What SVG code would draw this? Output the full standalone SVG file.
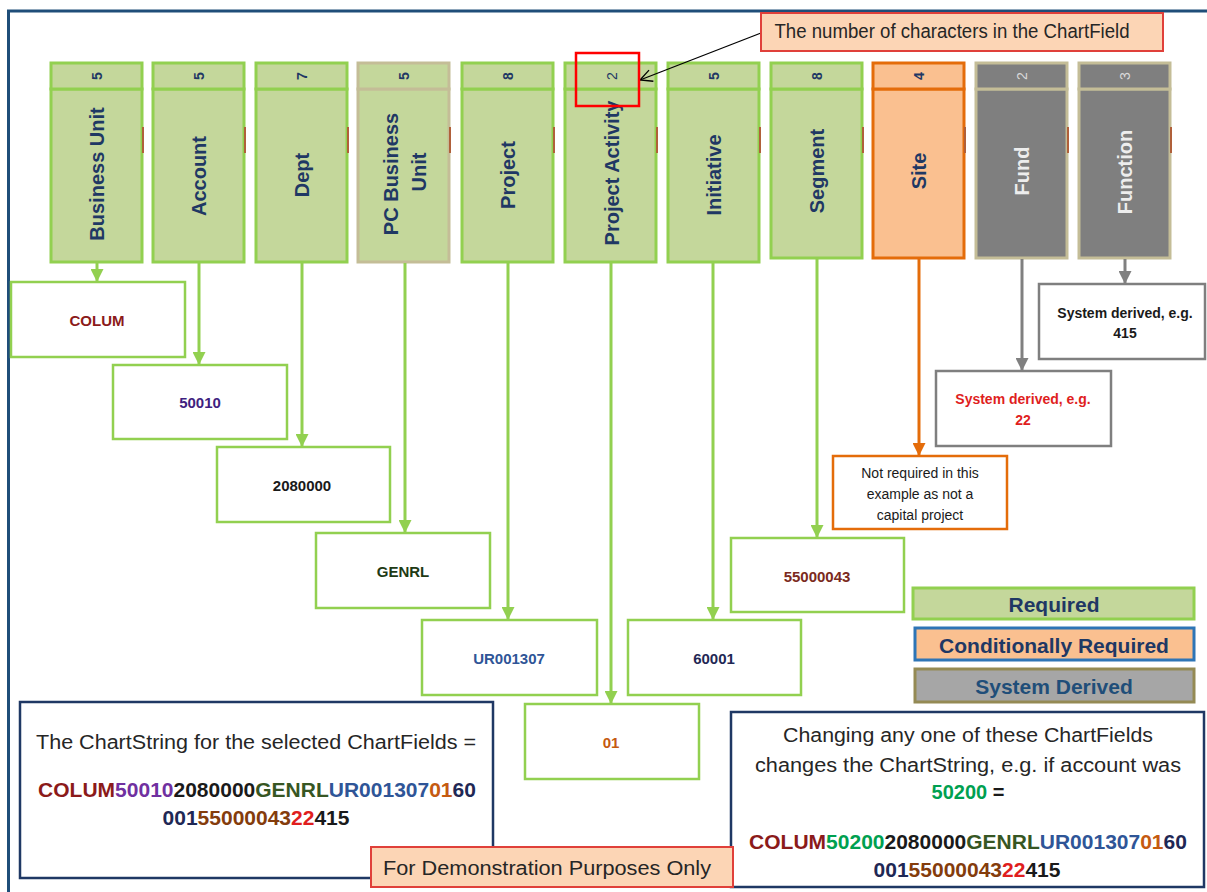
<svg xmlns="http://www.w3.org/2000/svg" width="1207" height="892" viewBox="0 0 1207 892">
<defs>
<style>
.frame{fill:none;stroke:#1f4e79;stroke-width:3}
.hg{fill:#c4d79b;stroke:#92d050;stroke-width:3}
.hp{fill:#c4d79b;stroke:#c4bd97;stroke-width:3}
.hs{fill:#fac090;stroke:#e46c0a;stroke-width:3}
.hd{fill:#7f7f7f;stroke:#c4bd97;stroke-width:3}
.tick{fill:#b0603a}
.lbl{font-family:"Liberation Sans",Arial,sans-serif;font-weight:bold;font-size:20px;fill:#1f3864;text-anchor:middle;dominant-baseline:central}
.lbl.w{fill:#ededed}
.num{font-family:"Liberation Sans",Arial,sans-serif;font-size:14px;fill:#1f3864;text-anchor:middle;dominant-baseline:central}
.num.w{fill:#d9d9d9}
.num.b{font-weight:bold}
.vbox{fill:#fff;stroke:#92d050;stroke-width:2.5}
.obox{fill:#fff;stroke:#e46c0a;stroke-width:2.5}
.gbox{fill:#fff;stroke:#7f7f7f;stroke-width:2.5}
.val{font-family:"Liberation Sans",Arial,sans-serif;font-weight:bold;font-size:15px;text-anchor:middle;dominant-baseline:central}
.small{font-family:"Liberation Sans",Arial,sans-serif;font-size:14px;fill:#1a1a1a;text-anchor:middle}
.sb{font-family:"Liberation Sans",Arial,sans-serif;font-weight:bold;font-size:14px;text-anchor:middle}
.cg{fill:none;stroke:#92d050;stroke-width:3}
.co{fill:none;stroke:#e46c0a;stroke-width:3}
.cy{fill:none;stroke:#808080;stroke-width:3}
.leg{font-family:"Liberation Sans",Arial,sans-serif;font-weight:bold;font-size:21px;text-anchor:middle;dominant-baseline:central}
.nbox{fill:#fff;stroke:#1f3864;stroke-width:2.5}
.reg{font-family:"Liberation Sans",Arial,sans-serif;font-size:20px;fill:#262626;text-anchor:middle}
.cs{font-family:"Liberation Sans",Arial,sans-serif;font-weight:bold;font-size:21px;text-anchor:middle}
.note{fill:#fcd5b5;stroke:#e0403a;stroke-width:2}
</style>
<marker id="ag" markerUnits="userSpaceOnUse" markerWidth="13" markerHeight="13" viewBox="0 0 13 13" refX="13" refY="6.5" orient="auto"><path d="M0,0 L13,6.5 L0,13 z" fill="#92d050"/></marker>
<marker id="ao" markerUnits="userSpaceOnUse" markerWidth="13" markerHeight="13" viewBox="0 0 13 13" refX="13" refY="6.5" orient="auto"><path d="M0,0 L13,6.5 L0,13 z" fill="#e46c0a"/></marker>
<marker id="ay" markerUnits="userSpaceOnUse" markerWidth="13" markerHeight="13" viewBox="0 0 13 13" refX="13" refY="6.5" orient="auto"><path d="M0,0 L13,6.5 L0,13 z" fill="#808080"/></marker>
<marker id="ak" markerUnits="userSpaceOnUse" markerWidth="14" markerHeight="14" viewBox="0 0 14 14" refX="13" refY="7" orient="auto"><path d="M1,1 L13,7 L1,13" fill="none" stroke="#000" stroke-width="1.3"/></marker>
</defs>

<rect class="frame" x="8.5" y="11" width="1300" height="1000"/>

<!-- columns -->
<g id="col-business-unit">
<rect class="hg" x="51" y="89" width="91" height="173"/><rect class="hg" x="51" y="63" width="91" height="26"/>
<rect class="tick" x="142" y="127" width="2" height="26"/>
<text class="num b" transform="translate(96.5,76) rotate(-90)">5</text>
<text class="lbl" transform="translate(96.5,174) rotate(-90)">Business Unit</text>
</g>
<g id="col-account">
<rect class="hg" x="153" y="89" width="91" height="173"/><rect class="hg" x="153" y="63" width="91" height="26"/>
<rect class="tick" x="244" y="127" width="2" height="26"/>
<text class="num b" transform="translate(198.5,76) rotate(-90)">5</text>
<text class="lbl" transform="translate(198.5,176) rotate(-90)">Account</text>
</g>
<g id="col-dept">
<rect class="hg" x="256" y="89" width="91" height="173"/><rect class="hg" x="256" y="63" width="91" height="26"/>
<rect class="tick" x="347" y="127" width="2" height="26"/>
<text class="num b" transform="translate(301.5,76) rotate(-90)">7</text>
<text class="lbl" transform="translate(301.5,175) rotate(-90)">Dept</text>
</g>
<g id="col-pc-business-unit">
<rect class="hp" x="358" y="89" width="91" height="173"/><rect class="hp" x="358" y="63" width="91" height="26"/>
<rect class="tick" x="449" y="127" width="2" height="26"/>
<text class="num b" transform="translate(403.5,76) rotate(-90)">5</text>
<text class="lbl" transform="translate(391,174) rotate(-90)">PC Business</text>
<text class="lbl" transform="translate(419,172) rotate(-90)">Unit</text>
</g>
<g id="col-project">
<rect class="hg" x="462" y="89" width="91" height="173"/><rect class="hg" x="462" y="63" width="91" height="26"/>
<rect class="tick" x="553" y="127" width="2" height="26"/>
<text class="num b" transform="translate(507.5,76) rotate(-90)">8</text>
<text class="lbl" transform="translate(507.5,175) rotate(-90)">Project</text>
</g>
<g id="col-project-activity">
<rect class="hg" x="565" y="89" width="91" height="173"/><rect class="hg" x="565" y="63" width="91" height="26"/>
<rect class="tick" x="656" y="127" width="2" height="26"/>
<text class="num" transform="translate(612,76) rotate(-90)">2</text>
<text class="lbl" transform="translate(612,173) rotate(-90)">Project Activity</text>
</g>
<g id="col-initiative">
<rect class="hg" x="668" y="89" width="91" height="173"/><rect class="hg" x="668" y="63" width="91" height="26"/>
<rect class="tick" x="759" y="127" width="2" height="26"/>
<text class="num b" transform="translate(713.5,76) rotate(-90)">5</text>
<text class="lbl" transform="translate(713.5,175) rotate(-90)">Initiative</text>
</g>
<g id="col-segment">
<rect class="hg" x="771" y="89" width="91" height="169"/><rect class="hg" x="771" y="63" width="91" height="26"/>
<rect class="tick" x="862" y="127" width="2" height="26"/>
<text class="num b" transform="translate(816.5,76) rotate(-90)">8</text>
<text class="lbl" transform="translate(816.5,171) rotate(-90)">Segment</text>
</g>
<g id="col-site">
<rect class="hs" x="873" y="89" width="91" height="169"/><rect class="hs" x="873" y="63" width="91" height="26"/>
<rect class="tick" x="964" y="127" width="2" height="26"/>
<text class="num b" transform="translate(918.5,76) rotate(-90)">4</text>
<text class="lbl" transform="translate(918.5,171) rotate(-90)">Site</text>
</g>
<g id="col-fund">
<rect class="hd" x="976" y="89" width="91" height="169"/><rect class="hd" x="976" y="63" width="91" height="26"/>
<rect class="tick" x="1067" y="127" width="2" height="26" fill="#c0504d"/>
<text class="num w" transform="translate(1021.5,76) rotate(-90)">2</text>
<text class="lbl w" transform="translate(1021.5,171) rotate(-90)">Fund</text>
</g>
<g id="col-function">
<rect class="hd" x="1079" y="89" width="91" height="169"/><rect class="hd" x="1079" y="63" width="91" height="26"/>
<rect class="tick" x="1170" y="127" width="2" height="26" fill="#c0504d"/>
<text class="num w" transform="translate(1124.5,76) rotate(-90)">3</text>
<text class="lbl w" transform="translate(1124.5,172) rotate(-90)">Function</text>
</g>

<!-- connectors -->
<g id="connectors">
<line class="cg" x1="97" y1="263" x2="97" y2="282" marker-end="url(#ag)"/>
<line class="cg" x1="199" y1="263" x2="199" y2="365" marker-end="url(#ag)"/>
<line class="cg" x1="302" y1="263" x2="302" y2="447" marker-end="url(#ag)"/>
<line class="cg" x1="405" y1="263" x2="405" y2="533" marker-end="url(#ag)"/>
<line class="cg" x1="508" y1="263" x2="508" y2="620" marker-end="url(#ag)"/>
<line class="cg" x1="611" y1="263" x2="611" y2="704" marker-end="url(#ag)"/>
<line class="cg" x1="713" y1="263" x2="713" y2="620" marker-end="url(#ag)"/>
<line class="cg" x1="817" y1="259" x2="817" y2="538" marker-end="url(#ag)"/>
<line class="co" x1="919" y1="259" x2="919" y2="456" marker-end="url(#ao)"/>
<line class="cy" x1="1022" y1="259" x2="1022" y2="371" marker-end="url(#ay)"/>
<line class="cy" x1="1125" y1="259" x2="1125" y2="284" marker-end="url(#ay)"/>
<line x1="761" y1="33" x2="640" y2="80" stroke="#000" stroke-width="1.3" marker-end="url(#ak)"/>
</g>

<g id="highlight">
<rect x="576" y="53" width="63" height="53" fill="none" stroke="#ff0000" stroke-width="2.5"/>
</g>
<g id="callout-characters">
<rect class="note" x="761" y="13" width="402" height="38"/>
<text class="reg" x="952" y="38" font-size="17" textLength="355" lengthAdjust="spacingAndGlyphs">The number of characters in the ChartField</text>
</g>

<!-- value boxes -->
<g id="val-colum"><rect class="vbox" x="11" y="282" width="174" height="75"/><text class="val" x="97" y="320" fill="#8b1a1a">COLUM</text></g>
<g id="val-50010"><rect class="vbox" x="113" y="365" width="174" height="74"/><text class="val" x="200" y="402" fill="#3f1f80">50010</text></g>
<g id="val-2080000"><rect class="vbox" x="217" y="447" width="173" height="75"/><text class="val" x="302" y="485" fill="#1a1a1a">2080000</text></g>
<g id="val-genrl"><rect class="vbox" x="316" y="533" width="174" height="75"/><text class="val" x="403" y="571" fill="#1e3a14">GENRL</text></g>
<g id="val-ur001307"><rect class="vbox" x="422" y="620" width="175" height="75"/><text class="val" x="509" y="658" fill="#2f5597">UR001307</text></g>
<g id="val-01"><rect class="vbox" x="525" y="704" width="174" height="75"/><text class="val" x="611" y="742" fill="#c55a11">01</text></g>
<g id="val-60001"><rect class="vbox" x="628" y="620" width="173" height="75"/><text class="val" x="714" y="658" fill="#1f2855">60001</text></g>
<g id="val-55000043"><rect class="vbox" x="731" y="538" width="173" height="74"/><text class="val" x="817" y="576" fill="#7b2a20">55000043</text></g>
<g id="val-site"><rect class="obox" x="833" y="456" width="174" height="73"/>
<text class="small" x="920" y="478">Not required  in this</text>
<text class="small" x="920" y="499">example as not a</text>
<text class="small" x="920" y="520">capital project</text></g>
<g id="val-fund"><rect class="gbox" x="936" y="371" width="175" height="75"/>
<text class="sb" x="1023" y="404" fill="#e01e1e">System derived, e.g.</text>
<text class="sb" x="1023" y="425" fill="#e01e1e">22</text></g>
<g id="val-function"><rect class="gbox" x="1039" y="284" width="166" height="75"/>
<text class="sb" x="1125" y="318" fill="#1a1a1a">System derived, e.g.</text>
<text class="sb" x="1125" y="338" fill="#1a1a1a">415</text></g>

<!-- legend -->
<g id="legend-required"><rect x="913" y="588" width="281" height="31" fill="#c4d79b" stroke="#92d050" stroke-width="3"/><text class="leg" x="1054" y="604" fill="#1f3864">Required</text></g>
<g id="legend-conditional"><rect x="915" y="628" width="279" height="32" fill="#fac090" stroke="#2e75b6" stroke-width="3"/><text class="leg" x="1054" y="645" fill="#1f3864">Conditionally Required</text></g>
<g id="legend-system"><rect x="915" y="669" width="279" height="33" fill="#a6a6a6" stroke="#948a54" stroke-width="3"/><text class="leg" x="1054" y="686" fill="#1f4e79">System Derived</text></g>

<!-- bottom boxes -->
<g id="chartstring-box">
<rect class="nbox" x="20" y="702" width="473" height="176"/>
<text class="reg" x="256" y="749" textLength="440" lengthAdjust="spacingAndGlyphs">The ChartString for the selected ChartFields =</text>
<text class="cs" x="257" y="797"><tspan fill="#8b1a1a">COLUM</tspan><tspan fill="#7030a0">50010</tspan><tspan fill="#1a1a1a">2080000</tspan><tspan fill="#375623">GENRL</tspan><tspan fill="#2f5597">UR001307</tspan><tspan fill="#c55a11">01</tspan><tspan fill="#1f2855">60</tspan></text>
<text class="cs" x="256" y="825"><tspan fill="#1f2855">001</tspan><tspan fill="#843c0c">55000043</tspan><tspan fill="#e01e1e">22</tspan><tspan fill="#1a1a1a">415</tspan></text>
</g>
<g id="change-box">
<rect class="nbox" x="731" y="712" width="473" height="175"/>
<text class="reg" x="968" y="742" textLength="370" lengthAdjust="spacingAndGlyphs">Changing any one of these ChartFields</text>
<text class="reg" x="968" y="772" textLength="426" lengthAdjust="spacingAndGlyphs">changes the ChartString, e.g. if account was</text>
<text class="reg" x="968" y="799" font-weight="bold"><tspan fill="#00a050">50200</tspan><tspan fill="#1a1a1a"> =</tspan></text>
<text class="cs" x="968" y="849"><tspan fill="#8b1a1a">COLUM</tspan><tspan fill="#00a050">50200</tspan><tspan fill="#1a1a1a">2080000</tspan><tspan fill="#375623">GENRL</tspan><tspan fill="#2f5597">UR001307</tspan><tspan fill="#c55a11">01</tspan><tspan fill="#1f2855">60</tspan></text>
<text class="cs" x="967" y="877"><tspan fill="#1f2855">001</tspan><tspan fill="#843c0c">55000043</tspan><tspan fill="#e01e1e">22</tspan><tspan fill="#1a1a1a">415</tspan></text>
</g>
<g id="demo-note">
<rect class="note" x="371" y="847" width="362" height="40"/>
<text class="reg" x="547" y="875" textLength="328" lengthAdjust="spacingAndGlyphs">For Demonstration Purposes Only</text>
</g>
</svg>
